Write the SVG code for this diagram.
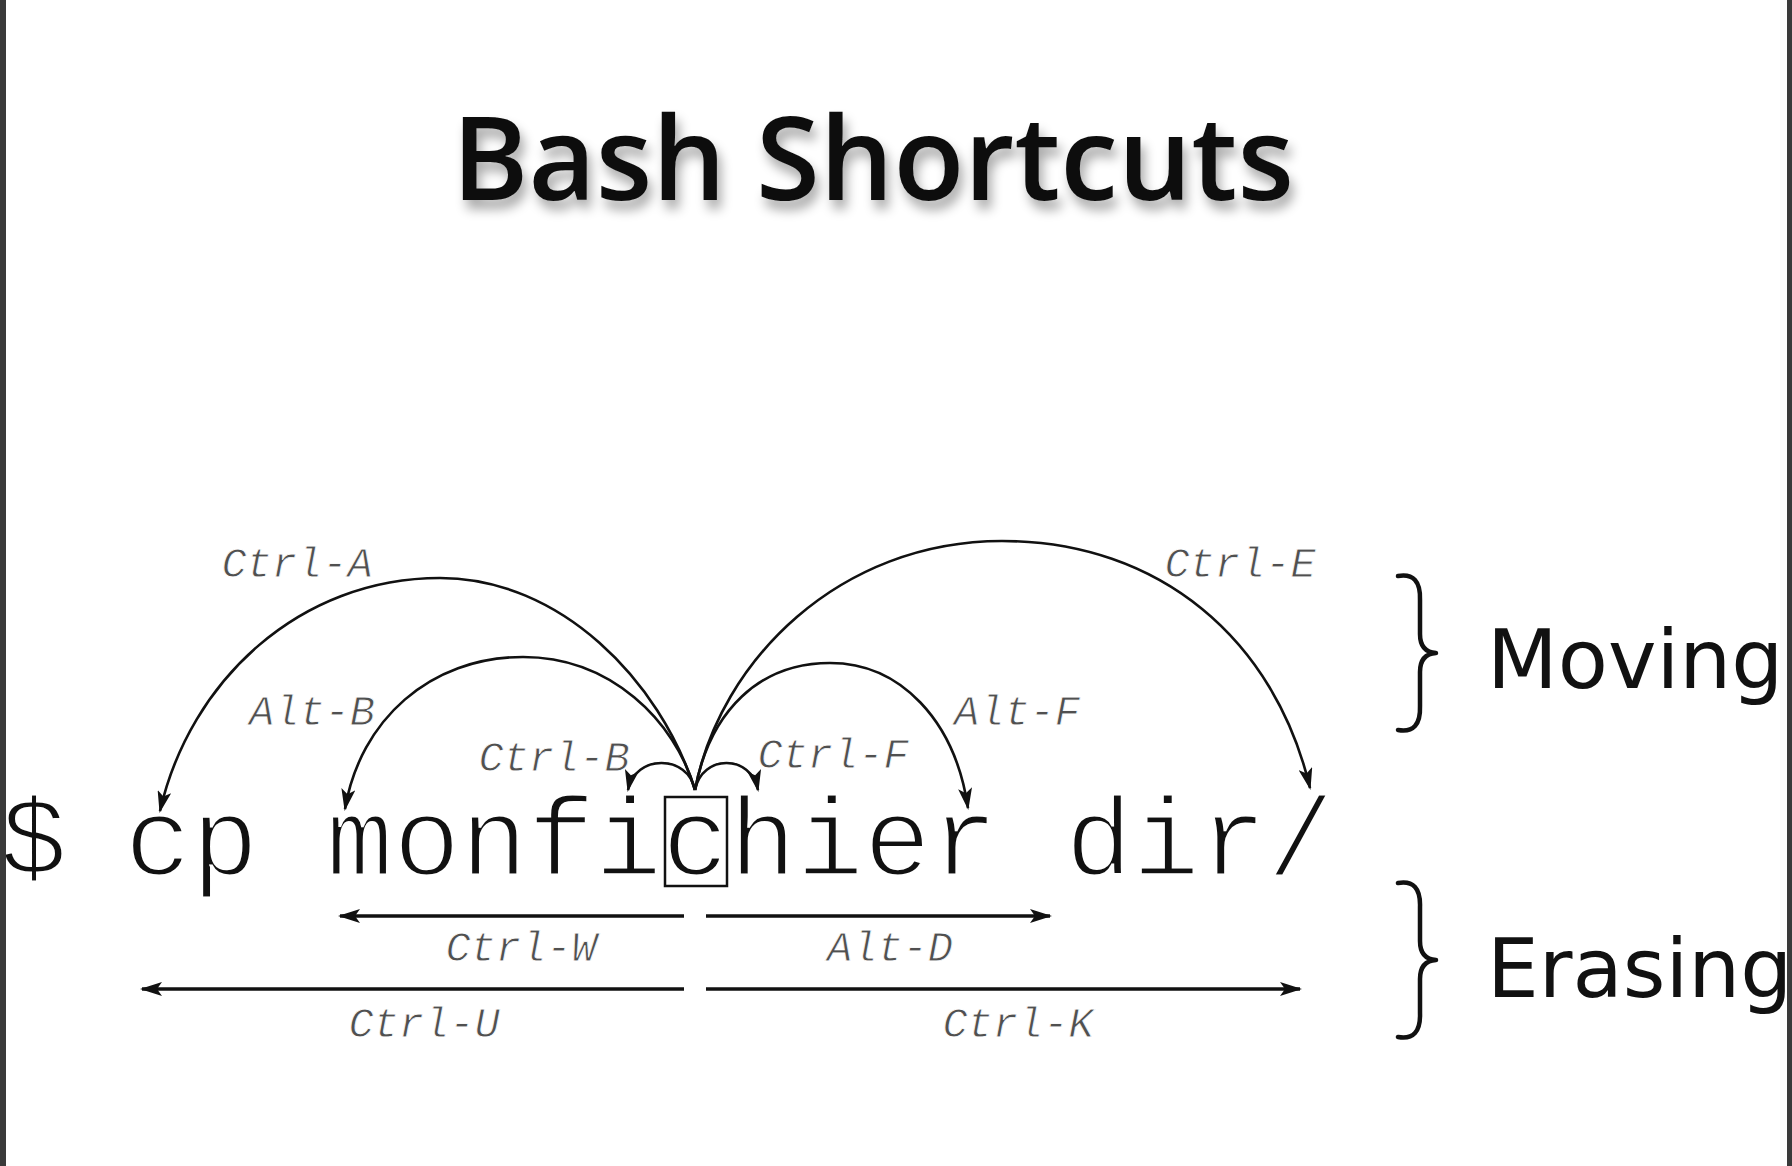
<svg xmlns="http://www.w3.org/2000/svg" width="1792" height="1166" viewBox="0 0 1792 1166">
  <style>
    .title { font-family: "Open Sans", "Noto Sans", "DejaVu Sans", sans-serif; font-weight: 600; font-size: 116px; fill: #111; }
    .cmd { font-family: "Liberation Mono", "DejaVu Sans Mono", monospace; font-size: 112px; fill: #111; stroke: #ffffff; stroke-width: 3; }
    .key { font-family: "Liberation Mono", "DejaVu Sans Mono", monospace; font-style: italic; font-size: 42px; fill: #505050; text-anchor: middle; stroke: #ffffff; stroke-width: 0.8; }
    .group { font-family: "DejaVu Sans", "Noto Sans", sans-serif; font-size: 82px; fill: #111; }
    .arc { fill: none; stroke: #111; stroke-width: 2.6; }
    .bar { fill: none; stroke: #111; stroke-width: 3.5; }
    .brace { fill: none; stroke: #111; stroke-width: 4.5; stroke-linecap: round; stroke-linejoin: round; }
  </style>
  <defs>
    <marker id="ah" viewBox="0 0 22 14" refX="20" refY="7" markerWidth="22" markerHeight="14" markerUnits="userSpaceOnUse" orient="auto">
      <path d="M0,0 L22,7 L0,14 L5,7 z" fill="#111"/>
    </marker>
    <filter id="shadow" x="-10%" y="-30%" width="120%" height="170%">
      <feGaussianBlur in="SourceAlpha" stdDeviation="6"/>
      <feOffset dx="4" dy="9" result="b"/>
      <feComponentTransfer><feFuncA type="linear" slope="0.35"/></feComponentTransfer>
      <feMerge><feMergeNode/><feMergeNode in="SourceGraphic"/></feMerge>
    </filter>
  </defs>

  <rect x="0" y="0" width="1792" height="1166" fill="#ffffff"/>

  <g id="title">
    <text class="title" x="873" y="200" text-anchor="middle" filter="url(#shadow)">Bash Shortcuts</text>
  </g>

  <g id="command">
    <text class="cmd" x="0" y="875">$</text>
    <text class="cmd" x="124.4" y="875">cp monfichier dir/</text>
    <rect x="665" y="797" width="62" height="89" fill="none" stroke="#111" stroke-width="2.5"/>
  </g>

  <g id="connectors">
    <path id="arc-ctrl-a" class="arc" marker-end="url(#ah)" d="M695,790 C660,680 560,578 440,578 C300,578 190,680 160,811"/>
    <path id="arc-alt-b" class="arc" marker-end="url(#ah)" d="M695,790 C675,720 610,657 523,657 C430,657 360,720 345,809"/>
    <path id="arc-ctrl-b" class="arc" marker-end="url(#ah)" d="M695,790 C688,754 635,754 628,790"/>
    <path id="arc-ctrl-f" class="arc" marker-end="url(#ah)" d="M695,790 C702,754 751,754 758,790"/>
    <path id="arc-alt-f" class="arc" marker-end="url(#ah)" d="M695,790 C710,710 760,663 830,663 C900,663 955,720 968,808"/>
    <path id="arc-ctrl-e" class="arc" marker-end="url(#ah)" d="M695,790 C720,660 840,541 1002,541 C1160,541 1275,640 1310,788"/>
    <line id="bar-ctrl-w" class="bar" marker-end="url(#ah)" x1="684" y1="916" x2="340" y2="916"/>
    <line id="bar-alt-d" class="bar" marker-end="url(#ah)" x1="706" y1="916" x2="1050" y2="916"/>
    <line id="bar-ctrl-u" class="bar" marker-end="url(#ah)" x1="684" y1="989" x2="142" y2="989"/>
    <line id="bar-ctrl-k" class="bar" marker-end="url(#ah)" x1="706" y1="989" x2="1300" y2="989"/>
  </g>

  <g id="key-ctrl-a"><text class="key" x="297" y="577">Ctrl-A</text></g>
  <g id="key-alt-b"><text class="key" x="312" y="725">Alt-B</text></g>
  <g id="key-ctrl-b"><text class="key" x="554" y="771">Ctrl-B</text></g>
  <g id="key-ctrl-f"><text class="key" x="833" y="768">Ctrl-F</text></g>
  <g id="key-alt-f"><text class="key" x="1017" y="725">Alt-F</text></g>
  <g id="key-ctrl-e"><text class="key" x="1240" y="577">Ctrl-E</text></g>
  <g id="key-ctrl-w"><text class="key" x="521" y="961">Ctrl-W</text></g>
  <g id="key-alt-d"><text class="key" x="890" y="961">Alt-D</text></g>
  <g id="key-ctrl-u"><text class="key" x="424" y="1037">Ctrl-U</text></g>
  <g id="key-ctrl-k"><text class="key" x="1018" y="1037">Ctrl-K</text></g>

  <g id="moving">
    <path class="brace" d="M1398,576 Q1421,572 1420,600 L1420,634 Q1420,652 1436,653 Q1420,654 1420,672 L1420,706 Q1421,734 1398,730"/>
    <text class="group" x="1487" y="688">Moving</text>
  </g>
  <g id="erasing">
    <path class="brace" transform="translate(0,307)" d="M1398,576 Q1421,572 1420,600 L1420,634 Q1420,652 1436,653 Q1420,654 1420,672 L1420,706 Q1421,734 1398,730"/>
    <text class="group" x="1487" y="997">Erasing</text>
  </g>

  <rect x="0" y="0" width="6" height="1166" fill="#3a3a3a"/>
  <rect x="1787" y="0" width="5" height="1166" fill="#3a3a3a"/>
</svg>
